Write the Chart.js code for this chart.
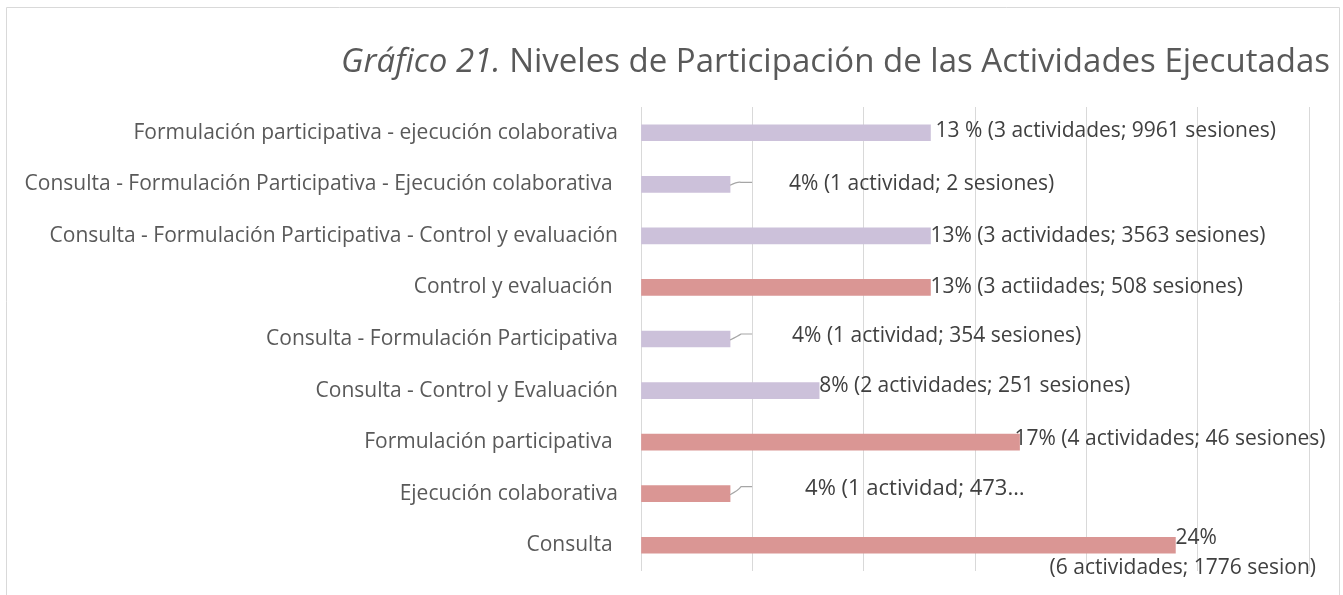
<!DOCTYPE html>
<html><head><meta charset="utf-8">
<script src="https://cdn.jsdelivr.net/npm/chart.js@4/dist/chart.umd.min.js"></script>
<style>html,body{margin:0;padding:0;background:#fff;}#wrap{width:1343px;height:595px;position:relative;}</style>
</head><body><div id="wrap"><canvas id="c" width="1343" height="595"></canvas></div>
<script>
const categories = [
  "Formulación participativa - ejecución colaborativa",
  "Consulta - Formulación Participativa - Ejecución colaborativa ",
  "Consulta - Formulación Participativa - Control y evaluación",
  "Control y evaluación ",
  "Consulta - Formulación Participativa",
  "Consulta - Control y Evaluación",
  "Formulación participativa ",
  "Ejecución colaborativa",
  "Consulta "
];
const percentValues = [13, 4, 13, 13, 4, 8, 17, 4, 24];
const seriesGroup = ["mixed","mixed","mixed","single","mixed","mixed","single","single","single"];
const dataLabels = [
  ["13 % (3 actividades; 9961 sesiones)"],
  ["4% (1 actividad; 2 sesiones)"],
  ["13% (3 actividades; 3563 sesiones)"],
  ["13% (3 actiidades; 508 sesiones)"],
  ["4% (1 actividad; 354 sesiones)"],
  ["8% (2 actividades; 251 sesiones)"],
  ["17% (4 actividades; 46 sesiones)"],
  ["4% (1 actividad; 473…"],
  ["24%", "(6 actividades; 1776 sesion)"]
];
const xTicks = [0, 5, 10, 15, 20, 25, 30];
const titleItalic = "Gráfico 21.";
const titleRest = " Niveles de Participación de las Actividades Ejecutadas";

// style-only settings
const groupColors = {mixed: "#CCC1DA", single: "#DA9694"};
const FONT = "'Open Sans', sans-serif";
const labelStyle = [
  {dx: 5, dy: -2, leader: false, size: 21},
  {dx: 59, dy: 0, leader: true, size: 21},
  {dx: 0, dy: 0, leader: false, size: 21},
  {dx: 0, dy: 0, leader: false, size: 21},
  {dx: 62, dy: -3, leader: true, size: 21},
  {dx: 0, dy: -5, leader: false, size: 21},
  {dx: -5, dy: -3, leader: false, size: 21},
  {dx: 75, dy: -5, leader: true, size: 22},
  {dx: 0, dy: -7, leader: false, size: 21, second: {alignRightAt: 1316, dy: 23}}
];

const decor = {
  id: 'decor',
  beforeDraw(chart) {
    const ctx = chart.ctx;
    ctx.save();
    ctx.strokeStyle = '#D9D9D9';
    ctx.lineWidth = 1;
    ctx.beginPath();
    ctx.moveTo(6.5, 600); ctx.lineTo(6.5, 7.5); ctx.lineTo(1339.5, 7.5); ctx.lineTo(1339.5, 600);
    ctx.stroke();
    // title
    ctx.fillStyle = '#595959';
    ctx.textBaseline = 'alphabetic';
    ctx.font = "italic 33px " + FONT;
    const w1 = ctx.measureText(titleItalic).width;
    ctx.font = "33px " + FONT;
    const w2 = ctx.measureText(titleRest).width;
    const right = 1330;
    const x0 = right - w1 - w2;
    ctx.font = "italic 33px " + FONT;
    ctx.fillText(titleItalic, x0, 72);
    ctx.font = "33px " + FONT;
    ctx.fillText(titleRest, x0 + w1, 72);
    ctx.restore();
  },
  afterDatasetsDraw(chart) {
    const ctx = chart.ctx;
    const meta = chart.getDatasetMeta(0);
    const xs = chart.scales.x;
    ctx.save();
    ctx.fillStyle = '#404040';
    ctx.textBaseline = 'middle';
    meta.data.forEach((bar, i) => {
      const st = labelStyle[i];
      ctx.font = st.size + "px " + FONT;
      const xEnd = xs.getPixelForValue(percentValues[i]);
      const y = bar.y;
      if (st.leader) {
        ctx.strokeStyle = '#A6A6A6';
        ctx.lineWidth = 1.2;
        ctx.beginPath();
        ctx.moveTo(xEnd, y + 1);
        ctx.quadraticCurveTo(xEnd + 8, y - 3, xEnd + 11, y + st.dy - 2);
        ctx.lineTo(xEnd + 22, y + st.dy - 2);
        ctx.stroke();
      }
      ctx.textAlign = 'left';
      ctx.fillText(dataLabels[i][0], xEnd + st.dx, y + st.dy);
      if (st.second && dataLabels[i][1]) {
        ctx.textAlign = 'right';
        ctx.fillText(dataLabels[i][1], st.second.alignRightAt, y + st.second.dy);
      }
    });
    ctx.restore();
  }
};

new Chart(document.getElementById('c'), {
  type: 'bar',
  data: {
    labels: categories,
    datasets: [{
      data: percentValues,
      backgroundColor: seriesGroup.map(g => groupColors[g]),
      barThickness: 16
    }]
  },
  options: {
    indexAxis: 'y',
    responsive: false,
    animation: false,
    layout: {padding: {left: 0, right: 34, top: 107, bottom: 24}},
    plugins: {legend: {display: false}, tooltip: {enabled: false}, title: {display: false}},
    scales: {
      x: {
        min: 0, max: 30,
        afterBuildTicks(s) { s.ticks = xTicks.map(v => ({value: v})); },
        ticks: {display: false},
        grid: {color: '#D9D9D9', lineWidth: 1, drawTicks: false},
        border: {display: false},
        afterFit(s) { s.height = 0; s.paddingLeft = 0; s.paddingRight = 0; }
      },
      y: {
        ticks: {color: '#595959', font: {family: FONT, size: 21}, padding: 23, autoSkip: false},
        grid: {display: false, drawTicks: false},
        border: {display: false},
        afterFit(s) { s.width = 641; s.paddingTop = 0; s.paddingBottom = 0; }
      }
    }
  },
  plugins: [decor]
});
</script></body></html>
